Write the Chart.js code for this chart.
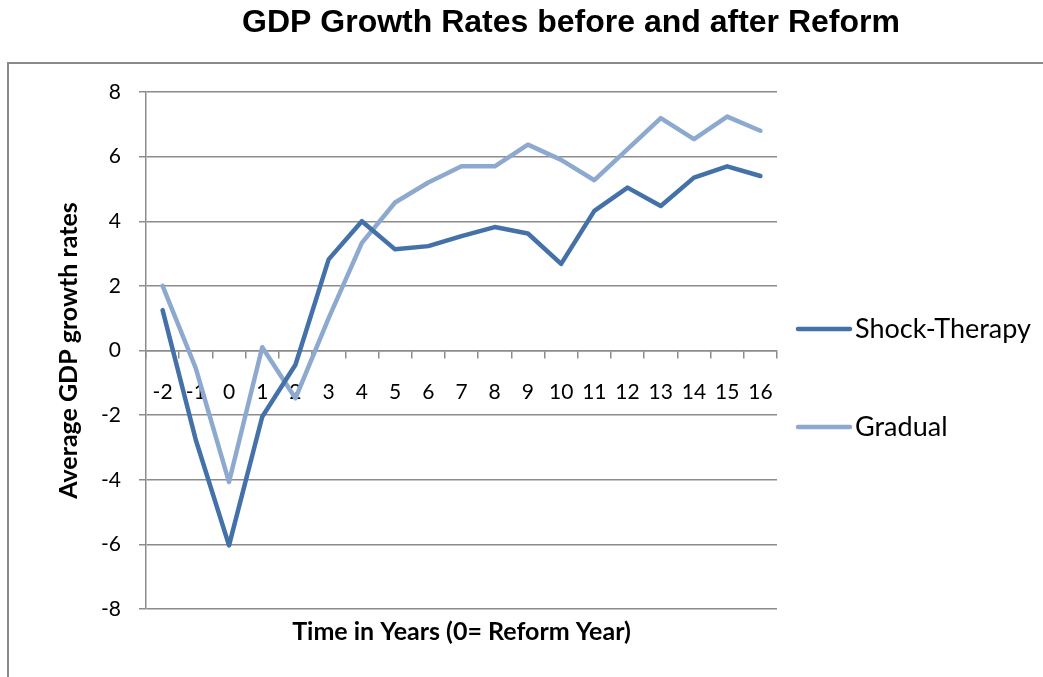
<!DOCTYPE html>
<html>
<head>
<meta charset="utf-8">
<script src="https://cdn.jsdelivr.net/npm/chart.js@4.4.1/dist/chart.umd.min.js"></script>
<style>
  html, body { margin: 0; padding: 0; background: #ffffff; }
  #wrap { width: 1043px; height: 677px; }
</style>
</head>
<body>
<div id="wrap"><canvas id="c" width="1043" height="677"></canvas></div>
<script>
// ---- data ----
const years = ['-2', '-1', '0', '1', '2', '3', '4', '5', '6', '7', '8', '9', '10', '11', '12', '13', '14', '15', '16'];
const shockTherapy = [1.25, -2.77, -6.03, -2.05, -0.44, 2.82, 4.0, 3.13, 3.23, 3.54, 3.82, 3.62, 2.68, 4.32, 5.04, 4.47, 5.35, 5.7, 5.4];
const gradual = [2.0, -0.55, -4.07, 0.1, -1.48, 1.0, 3.33, 4.58, 5.2, 5.7, 5.7, 6.37, 5.9, 5.27, 6.23, 7.19, 6.54, 7.24, 6.8];
const seriesNames = ['Shock-Therapy', 'Gradual'];
const yMin = -8, yMax = 8, yStep = 2;
const chartTitle = 'GDP Growth Rates before and after Reform';
const xTitle = 'Time in Years (0= Reform Year)';
const yTitle = 'Average GDP growth rates';

const GRID = '#8c8c8c';
const COLORS = ['#4471A7', '#8EA9CF'];
const BODY_FONT = 'Lato, "Open Sans", "DejaVu Sans", sans-serif';

const framePlugin = {
  id: 'frame',
  beforeDraw(chart) {
    const ctx = chart.ctx;
    ctx.save();
    ctx.fillStyle = '#ffffff';
    ctx.fillRect(0, 0, chart.width, chart.height);
    ctx.strokeStyle = '#8a8a8a';
    ctx.lineWidth = 2;
    ctx.beginPath();
    ctx.moveTo(8, chart.height + 5);
    ctx.lineTo(8, 63);
    ctx.lineTo(chart.width + 5, 63);
    ctx.stroke();
    ctx.restore();
  }
};

const titlePlugin = {
  id: 'mainTitle',
  afterDraw(chart) {
    const ctx = chart.ctx;
    ctx.save();
    ctx.fillStyle = '#000000';
    ctx.font = 'bold 32px "Liberation Sans", Arial, sans-serif';
    ctx.textAlign = 'center';
    ctx.textBaseline = 'middle';
    ctx.fillText(chartTitle, 571, 23);
    ctx.restore();
  }
};

const legendPlugin = {
  id: 'sideLegend',
  afterDraw(chart) {
    const ctx = chart.ctx;
    const ys = [329, 427];
    ctx.save();
    chart.data.datasets.forEach((ds, i) => {
      ctx.strokeStyle = ds.borderColor;
      ctx.lineWidth = ds.borderWidth;
      ctx.lineCap = 'round';
      ctx.beginPath();
      ctx.moveTo(798, ys[i]);
      ctx.lineTo(850, ys[i]);
      ctx.stroke();
      ctx.fillStyle = '#000000';
      ctx.font = '27px ' + BODY_FONT;
      ctx.textAlign = 'left';
      ctx.textBaseline = 'middle';
      ctx.fillText(ds.label, 855, ys[i]);
    });
    ctx.restore();
  }
};

new Chart(document.getElementById('c'), {
  type: 'line',
  data: {
    labels: years,
    datasets: [
      { label: seriesNames[0], data: shockTherapy, borderColor: COLORS[0], backgroundColor: COLORS[0], borderWidth: 4.5, pointRadius: 0, tension: 0, borderJoinStyle: 'round', borderCapStyle: 'round', fill: false },
      { label: seriesNames[1], data: gradual, borderColor: COLORS[1], backgroundColor: COLORS[1], borderWidth: 4.5, pointRadius: 0, tension: 0, borderJoinStyle: 'round', borderCapStyle: 'round', fill: false }
    ]
  },
  options: {
    responsive: false,
    animation: false,
    layout: { padding: { top: 92, right: 266, bottom: 30, left: 0 } },
    plugins: {
      legend: { display: false },
      title: { display: false },
      tooltip: { enabled: false }
    },
    scales: {
      x: {
        type: 'category',
        position: { y: 0 },
        offset: true,
        grid: { offset: true, drawOnChartArea: false, drawTicks: true, tickLength: 7, color: GRID, lineWidth: 1.5 },
        border: { display: true, color: GRID, width: 1.5 },
        ticks: { color: '#000000', font: { family: BODY_FONT, size: 21, lineHeight: 1.2 }, padding: 22, maxRotation: 0, autoSkip: false }
      },
      x2: {
        type: 'category',
        position: 'bottom',
        offset: true,
        grid: { display: false, drawTicks: false },
        border: { display: false },
        ticks: { display: false },
        title: { display: true, text: xTitle, color: '#000000', font: { family: BODY_FONT, size: 25, weight: 'bold', lineHeight: 1.2 }, padding: { top: 8, bottom: 0 } }
      },
      y: {
        min: yMin,
        max: yMax,
        afterFit(scale) { scale.width = 146; },
        grid: { color: GRID, lineWidth: 1.5, tickLength: 7, drawTicks: true },
        border: { display: true, color: GRID, width: 1.5 },
        ticks: { stepSize: yStep, color: '#000000', font: { family: BODY_FONT, size: 21, lineHeight: 1.2 }, padding: 18 },
        title: { display: true, text: yTitle, color: '#000000', font: { family: BODY_FONT, size: 25, weight: 'bold', lineHeight: 1.2 }, padding: { top: 54, bottom: 0 } }
      }
    }
  },
  plugins: [framePlugin, titlePlugin, legendPlugin]
});
</script>
</body>
</html>
